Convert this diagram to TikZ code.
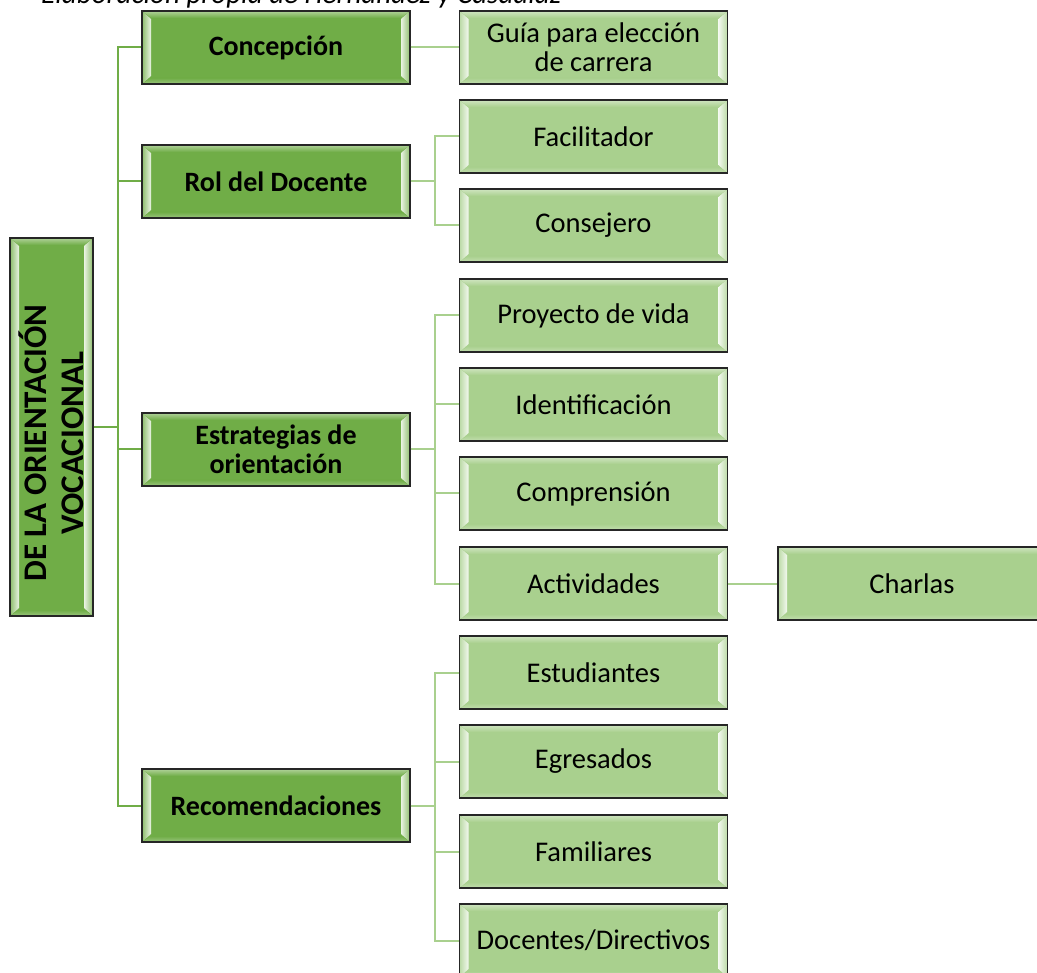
\documentclass[tikz,border=0pt]{standalone}
\usepackage{fontspec}
\setmainfont{Carlito}
\definecolor{dkgreen}{RGB}{112,173,71}
\definecolor{ltgreen}{RGB}{169,208,142}
\tikzset{
  bevel/.style={path picture={
    \path (path picture bounding box.south west) coordinate (bsw)
          (path picture bounding box.north east) coordinate (bne)
          (path picture bounding box.north west) coordinate (bnw)
          (path picture bounding box.south east) coordinate (bse);
    \fill[top color=#1!55!white, bottom color=#1] (bnw) -- ([shift={(9pt,-7pt)}]bnw) -- ([shift={(-9pt,-7pt)}]bne) -- (bne) -- cycle;
    \fill[bottom color=#1!70!white, top color=#1] (bsw) -- ([shift={(9pt,6pt)}]bsw) -- ([shift={(-9pt,6pt)}]bse) -- (bse) -- cycle;
    \fill[left color=#1!80!white, right color=white!85!#1] (bsw) -- ([shift={(9pt,8pt)}]bsw) -- ([shift={(9pt,-8pt)}]bnw) -- (bnw) -- cycle;
    \fill[right color=#1!80!white, left color=white!85!#1] (bse) -- ([shift={(-9pt,8pt)}]bse) -- ([shift={(-9pt,-8pt)}]bne) -- (bne) -- cycle;
  }},
  box/.style={draw=black!85, line width=1.3pt, minimum width=268pt, minimum height=73pt,
    inner sep=0pt, align=center},
  lone/.style={box, fill=dkgreen, bevel=dkgreen, font=\fontsize{28}{29}\selectfont\bfseries},
  ltwo/.style={box, fill=ltgreen, bevel=ltgreen, font=\fontsize{28.5}{29}\selectfont},
  cone/.style={draw=dkgreen, line width=2pt},
  ctwo/.style={draw=ltgreen, line width=2pt},
}
\begin{document}
\begin{tikzpicture}[x=1pt,y=-1pt]
\useasboundingbox (0,0) rectangle (1037,973);
\fill[white] (0,0) rectangle (1037,973);
\begin{scope}
\clip (0,0) rectangle (1037,973);
\node[anchor=base east, font=\fontsize{29}{30}\selectfont\itshape] (caption) at (565,4) {Elaboración propia de Hernández y Casadiaz};

% root
\node[draw=black!85, line width=1.3pt, fill=dkgreen, bevel=dkgreen, minimum width=83pt, minimum height=378pt, inner sep=0pt] (root) at (51.5,427) {};
\node[rotate=90, align=center, font=\fontsize{33}{37}\selectfont\bfseries] (rootlabel) at (51,443) {DE LA ORIENTACIÓN\\VOCACIONAL};

% level 1
\node[lone] (conc) at (276,47.5) {Concepción};
\node[lone] (rol) at (276,181.5) {Rol del Docente};
\node[lone] (estr) at (276,449.5) {Estrategias de\\orientación};
\node[lone] (reco) at (276,805.5) {Recomendaciones};

% level 2
\node[ltwo] (guia) at (593.5,47.5) {Guía para elección\\de carrera};
\node[ltwo] (faci) at (593.5,136.5) {Facilitador};
\node[ltwo] (cons) at (593.5,225.5) {Consejero};
\node[ltwo] (proy) at (593.5,315.5) {Proyecto de vida};
\node[ltwo] (iden) at (593.5,404.5) {Identificación};
\node[ltwo] (comp) at (593.5,493.5) {Comprensión};
\node[ltwo] (acti) at (593.5,583.5) {Actividades};
\node[ltwo] (estu) at (593.5,672.5) {Estudiantes};
\node[ltwo] (egre) at (593.5,761.5) {Egresados};
\node[ltwo] (fami) at (593.5,851.5) {Familiares};
\node[ltwo] (doce) at (593.5,940.5) {Docentes/Directivos};
\node[ltwo] (char) at (912,583.5) {Charlas};

% connectors
\coordinate (trunk) at (118,427);
\draw[cone] (root.east) -- (trunk);
\draw[cone] (trunk) |- (conc.west);
\draw[cone] (trunk) |- (rol.west);
\draw[cone] (trunk) |- (estr.west);
\draw[cone] (trunk) |- (reco.west);

\draw[ctwo] (conc.east) -- (guia.west);

\coordinate (brol) at (435,181.5);
\draw[ctwo] (rol.east) -- (brol);
\draw[ctwo] (brol) |- (faci.west);
\draw[ctwo] (brol) |- (cons.west);

\coordinate (bestr) at (435,449.5);
\draw[ctwo] (estr.east) -- (bestr);
\draw[ctwo] (bestr) |- (proy.west);
\draw[ctwo] (bestr) |- (iden.west);
\draw[ctwo] (bestr) |- (comp.west);
\draw[ctwo] (bestr) |- (acti.west);

\draw[ctwo] (acti.east) -- (char.west);

\coordinate (breco) at (435,805.5);
\draw[ctwo] (reco.east) -- (breco);
\draw[ctwo] (breco) |- (estu.west);
\draw[ctwo] (breco) |- (egre.west);
\draw[ctwo] (breco) |- (fami.west);
\draw[ctwo] (breco) |- (doce.west);
\end{scope}
\end{tikzpicture}
\end{document}
